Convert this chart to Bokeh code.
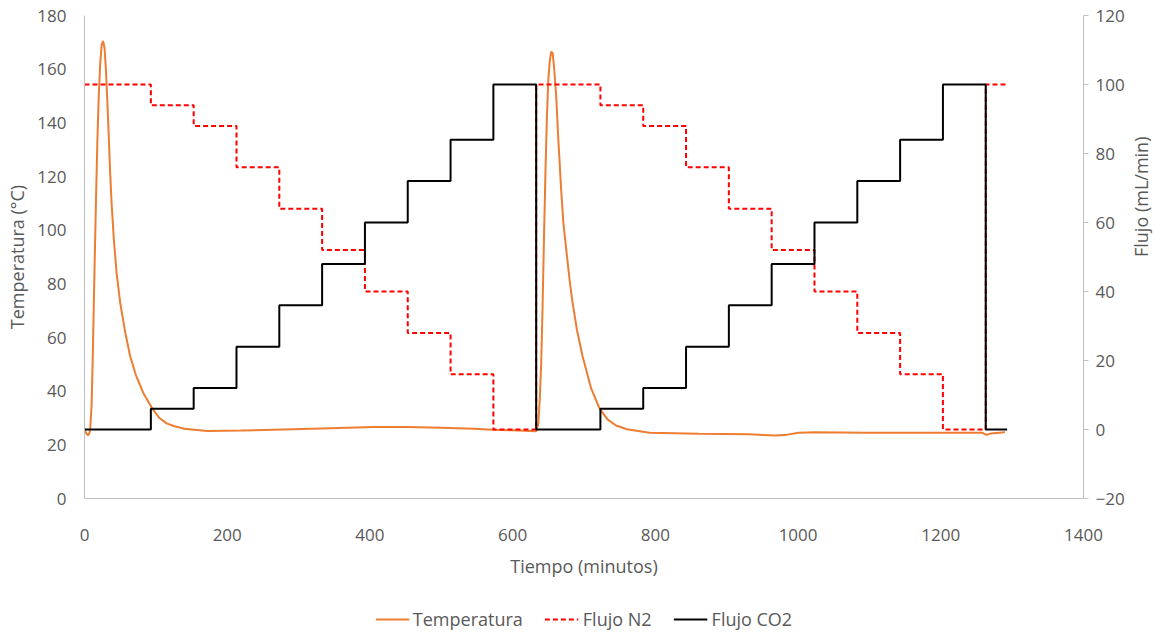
import math
from bokeh.plotting import figure
from bokeh.layouts import column
from bokeh.models import Range1d, LinearAxis, Legend, LegendItem, FixedTicker
from bokeh.embed import file_html
from bokeh.resources import INLINE

# Flow program (minutes at which each level starts; last value repeated to close the step)
step_time = [0, 93, 153, 213, 273, 333, 393, 453, 513, 573,
             633, 723, 783, 843, 903, 963, 1023, 1083, 1143, 1203,
             1263, 1293]
flujo_co2 = [0, 6, 12, 24, 36, 48, 60, 72, 84, 100,
             0, 6, 12, 24, 36, 48, 60, 72, 84, 100,
             0, 0]
flujo_n2 = [100, 94, 88, 76, 64, 52, 40, 28, 16, 0,
            100, 94, 88, 76, 64, 52, 40, 28, 16, 0,
            100, 100]

# Temperature trace
temp_time = [0, 2, 5, 7, 8, 10, 12, 14, 16, 18, 20, 22, 24, 26, 28, 30, 32, 34, 36, 38,
             41, 45, 50, 57, 64, 72, 83, 95, 105, 115, 125, 140, 172, 220, 264, 320, 404,
             451, 500, 545, 572, 600, 633,
             636, 638, 640, 642, 644, 646, 648, 650, 652, 654, 656, 658, 661, 664, 668,
             671, 675, 680, 684, 690, 698, 710, 722, 733, 745, 760, 792, 861, 931, 969,
             985, 1001, 1025, 1095, 1188, 1258, 1264, 1270, 1290]
temperatura = [26, 24.5, 23.5, 24.5, 26, 35, 58, 85, 110, 133, 150, 162, 169, 170.5, 168, 160, 148, 135, 121, 110,
               97, 84, 73, 62, 53, 46, 39, 33.5, 30, 28, 27, 26, 25.2, 25.3, 25.6, 26.0, 26.6,
               26.6, 26.4, 26.0, 25.6, 25.4, 25.1,
               28, 37, 50, 72, 98, 122, 142, 156, 163, 166.5, 166, 161, 150, 134, 115,
               103, 93, 81, 73, 63, 53, 41, 33.4, 29.5, 27.2, 25.8, 24.5, 24.1, 23.9, 23.5,
               23.8, 24.5, 24.7, 24.5, 24.5, 24.5, 23.7, 24.2, 24.7]

x_ticks = [0, 200, 400, 600, 800, 1000, 1200, 1400]
temp_ticks = [0, 20, 40, 60, 80, 100, 120, 140, 160, 180]
flow_ticks = [-20, 0, 20, 40, 60, 80, 100, 120]

FONT = "Open Sans"
TXT = "#595959"
AX = "#BFBFBF"
C_T, C_N, C_C = "#ED7D31", "#FF0000", "#000000"

p = figure(width=1168, height=604, output_backend="svg", toolbar_location=None,
           x_range=Range1d(0, 1400), y_range=Range1d(0, 180),
           min_border_left=84, min_border_right=85, min_border_top=15, min_border_bottom=106)
p.extra_y_ranges = {"flujo": Range1d(-20, 120)}
p.outline_line_color = None
p.grid.visible = False

p.line(temp_time, temperatura, line_color=C_T, line_width=2)
p.step(step_time, flujo_n2, mode="after", line_color=C_N, line_width=2,
       line_dash="5 3", y_range_name="flujo")
p.step(step_time, flujo_co2, mode="after", line_color=C_C, line_width=2,
       y_range_name="flujo")

yr = LinearAxis(y_range_name="flujo", ticker=FixedTicker(ticks=flow_ticks),
                axis_label="Flujo (mL/min)")
p.add_layout(yr, "right")

for ax in [p.xaxis[0], p.yaxis[0], yr]:
    ax.axis_line_color = AX
    ax.axis_line_width = 1
    ax.major_tick_line_color = AX
    ax.minor_tick_line_color = None
    ax.major_tick_in = 0
    ax.major_tick_out = 0
    ax.major_label_text_font = FONT
    ax.major_label_text_font_size = "17px"
    ax.major_label_text_color = TXT
    ax.axis_label_text_font = FONT
    ax.axis_label_text_font_size = "18px"
    ax.axis_label_text_color = TXT
    ax.axis_label_text_font_style = "normal"

yr.major_tick_out = 5
yr.major_label_standoff = 7
yr.axis_label_standoff = 13
try:
    yr.axis_label_orientation = math.pi / 2
except Exception:
    pass

p.xaxis[0].ticker = FixedTicker(ticks=x_ticks)
p.xaxis[0].axis_label = "Tiempo (minutos)"
p.xaxis[0].major_label_standoff = 30
p.xaxis[0].axis_label_standoff = 10

p.yaxis[0].ticker = FixedTicker(ticks=temp_ticks)
p.yaxis[0].axis_label = "Temperatura (°C)"
p.yaxis[0].major_label_standoff = 18
p.yaxis[0].axis_label_standoff = 5

# legend strip below the chart (sample glyphs kept outside the strip's visible range)
q = figure(width=1168, height=30, output_backend="svg", toolbar_location=None,
           x_range=Range1d(0, 1), y_range=Range1d(0, 1),
           min_border_left=0, min_border_right=0, min_border_top=0, min_border_bottom=0)
q.axis.visible = False
q.grid.visible = False
q.outline_line_color = None
l_t = q.line([5, 6], [5, 6], line_color=C_T, line_width=2)
l_n = q.line([5, 6], [5, 6], line_color=C_N, line_width=2, line_dash="5 3")
l_c = q.line([5, 6], [5, 6], line_color=C_C, line_width=2)
legend = Legend(items=[LegendItem(label="Temperatura", renderers=[l_t]),
                       LegendItem(label="Flujo N2", renderers=[l_n]),
                       LegendItem(label="Flujo CO2", renderers=[l_c])],
                orientation="horizontal", location="center",
                border_line_color=None, background_fill_alpha=0,
                label_text_font=FONT, label_text_font_size="18px", label_text_color=TXT,
                glyph_width=34, label_standoff=4, spacing=22, margin=0, padding=2)
q.add_layout(legend, "center")

open("out.html", "w").write(file_html(column(p, q, spacing=0), INLINE))
